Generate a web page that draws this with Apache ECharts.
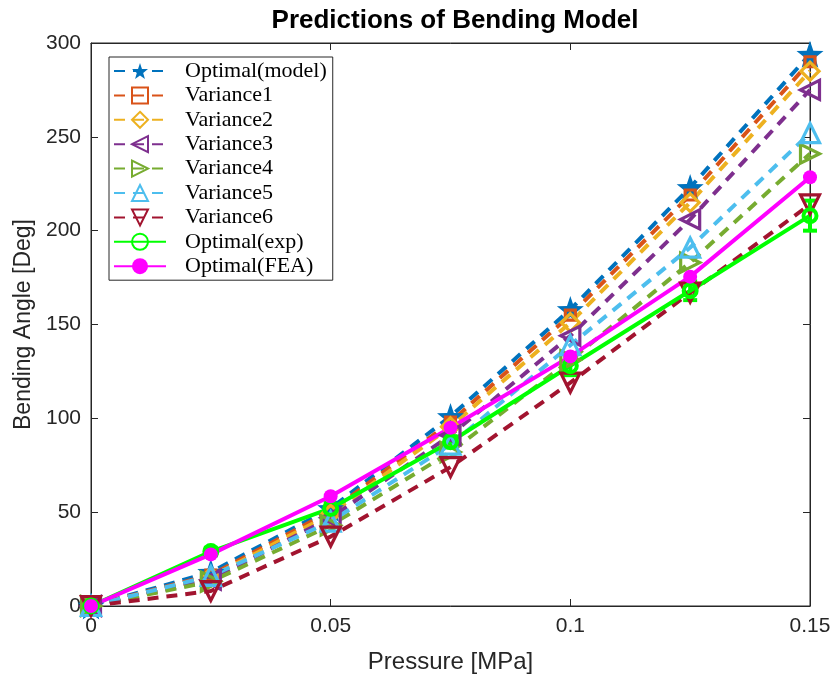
<!DOCTYPE html>
<html>
<head>
<meta charset="utf-8">
<script src="https://cdn.jsdelivr.net/npm/echarts@6/dist/echarts.min.js"></script>
<style>html,body{margin:0;padding:0;background:#fff}#c{width:830px;height:677px}</style>
</head>
<body>
<div id="c"></div>
<script>
const pressure = [0, 0.025, 0.05, 0.075, 0.1, 0.125, 0.15];
const optimalModel = [0, 18, 52, 101, 158, 223, 294];
const variance1 = [0, 16.5, 50.5, 98, 155, 219, 290];
const variance2 = [0, 15.5, 49, 95.5, 151, 215, 285];
const variance3 = [0, 14, 47, 91, 144, 206, 275];
const variance4 = [0, 13, 43, 82, 131, 183, 241];
const variance5 = [0, 16, 45, 86, 139, 191, 252];
const variance6 = [0, 8, 37, 74, 119, 167, 214];
const optimalExp = [0, 29, 52, 87.5, 128, 168, 208];
const optimalExpErr = [1, 2, 3, 3, 5, 5, 8];
const optimalFEA = [0, 27.5, 58.5, 95, 133, 175.5, 228.5];
const xTicks = [0, 0.05, 0.1, 0.15];
const yTicks = [0, 50, 100, 150, 200, 250, 300];

const STAR = 'path://M0,-10 L2.35,-3.24 L9.51,-3.09 L3.8,1.24 L5.88,8.09 L0,4 L-5.88,8.09 L-3.8,1.24 L-9.51,-3.09 L-2.35,-3.24 Z';
const pairs = arr => pressure.map((x, i) => [x, arr[i]]);

function dashed(name, arr, color, symbol, size, rotate, filled) {
  return {
    name, type: 'line', data: pairs(arr), symbol, symbolSize: size, symbolRotate: rotate || 0,
    showAllSymbol: true,
    lineStyle: { color, width: 4, type: [11, 8] },
    itemStyle: filled ? { color, borderColor: color, borderWidth: 0 } : { color: 'rgba(255,255,255,0)', borderColor: color, borderWidth: 3.2 },
    emphasis: { disabled: true }
  };
}

const series = [
  dashed('Optimal(model)', optimalModel, '#0072BD', STAR, 27, 0, true),
  dashed('Variance1', variance1, '#D95319', 'rect', 10, 0, false),
  dashed('Variance2', variance2, '#EDB120', 'diamond', 18, 0, false),
  dashed('Variance3', variance3, '#7E2F8E', 'triangle', 19, 90, false),
  dashed('Variance4', variance4, '#77AC30', 'triangle', 19, -90, false),
  dashed('Variance5', variance5, '#4DBEEE', 'triangle', 19, 0, false),
  dashed('Variance6', variance6, '#A2142F', 'triangle', 19, 180, false),
  {
    name: 'Optimal(exp)', type: 'line', data: pairs(optimalExp), symbol: 'circle', symbolSize: 13,
    showAllSymbol: true,
    lineStyle: { color: '#00FF00', width: 4 },
    itemStyle: { color: 'rgba(255,255,255,0)', borderColor: '#00FF00', borderWidth: 4 },
    emphasis: { disabled: true }
  },
  {
    name: 'expErr', type: 'custom', z: 3,
    data: pressure.map((x, i) => [x, optimalExp[i] - optimalExpErr[i], optimalExp[i] + optimalExpErr[i]]),
    renderItem: function (params, api) {
      const lo = api.coord([api.value(0), api.value(1)]);
      const hi = api.coord([api.value(0), api.value(2)]);
      const w = 7;
      const st = { stroke: '#00FF00', lineWidth: 4 };
      return { type: 'group', children: [
        { type: 'line', shape: { x1: lo[0], y1: lo[1], x2: hi[0], y2: hi[1] }, style: st },
        { type: 'line', shape: { x1: lo[0] - w, y1: lo[1], x2: lo[0] + w, y2: lo[1] }, style: st },
        { type: 'line', shape: { x1: hi[0] - w, y1: hi[1], x2: hi[0] + w, y2: hi[1] }, style: st }
      ]};
    },
    encode: { x: 0, y: [1, 2] },
    silent: true
  },
  {
    name: 'Optimal(FEA)', type: 'line', data: pairs(optimalFEA), symbol: 'circle', symbolSize: 14,
    showAllSymbol: true,
    lineStyle: { color: '#FF00FF', width: 4 },
    itemStyle: { color: '#FF00FF' },
    emphasis: { disabled: true }
  }
];

const chart = echarts.init(document.getElementById('c'));
const tickFont = { fontFamily: 'Liberation Sans, Arial, sans-serif', fontSize: 21, color: '#262626' };
const tick = { show: true, inside: true, length: 7, lineStyle: { color: '#262626' } };
const line = { show: true, onZero: false, lineStyle: { color: '#262626' } };
chart.setOption({
  animation: false,
  backgroundColor: '#fff',
  title: {
    text: 'Predictions of Bending Model', left: 450, textAlign: 'center', top: 3,
    textStyle: { fontFamily: 'Liberation Sans, Arial, sans-serif', fontWeight: 'bold', fontSize: 26, color: '#000' }
  },
  grid: { left: 91, right: 20, top: 43, bottom: 71, show: true, borderColor: '#262626', borderWidth: 1, containLabel: false, outerBoundsMode: 'none' },
  legend: {
    data: ['Optimal(model)', 'Variance1', 'Variance2', 'Variance3', 'Variance4', 'Variance5', 'Variance6', 'Optimal(exp)', 'Optimal(FEA)'],
    orient: 'vertical', left: 109, top: 57, padding: [3, 6, 3, 4],
    itemWidth: 52, itemHeight: 20, itemGap: 2.4,
    backgroundColor: '#fff', borderColor: '#262626', borderWidth: 1,
    textStyle: { fontFamily: 'Liberation Serif, Times New Roman, serif', fontSize: 22, lineHeight: 20, color: '#000', padding: [0, 0, 0, 14] },
    selectedMode: false
  },
  xAxis: [{
    type: 'value', min: 0, max: 0.15, interval: 0.05,
    name: 'Pressure [MPa]', nameLocation: 'middle', nameGap: 44,
    nameTextStyle: { fontFamily: 'Liberation Sans, Arial, sans-serif', fontSize: 24, color: '#262626' },
    axisLine: line, axisTick: tick,
    axisLabel: Object.assign({ margin: 10, formatter: v => xTicks.includes(+v.toFixed(3)) ? String(+v.toFixed(3)) : '' }, tickFont),
    splitLine: { show: false }
  }, {
    type: 'value', min: 0, max: 0.15, interval: 0.05, position: 'top',
    axisLine: line, axisTick: tick,
    axisLabel: { show: false }, splitLine: { show: false }
  }],
  yAxis: [{
    type: 'value', min: 0, max: 300, interval: 50, position: 'left',
    name: 'Bending Angle [Deg]', nameLocation: 'middle', nameGap: 55,
    nameTextStyle: { fontFamily: 'Liberation Sans, Arial, sans-serif', fontSize: 23, color: '#262626' },
    axisLine: line, axisTick: tick,
    axisLabel: Object.assign({ margin: 10, formatter: v => yTicks.includes(v) ? String(v) : '' }, tickFont),
    splitLine: { show: false }
  }, {
    type: 'value', min: 0, max: 300, interval: 50, position: 'right',
    axisLine: line, axisTick: tick,
    axisLabel: { show: false }, splitLine: { show: false }
  }],
  series
});
</script>
</body>
</html>
